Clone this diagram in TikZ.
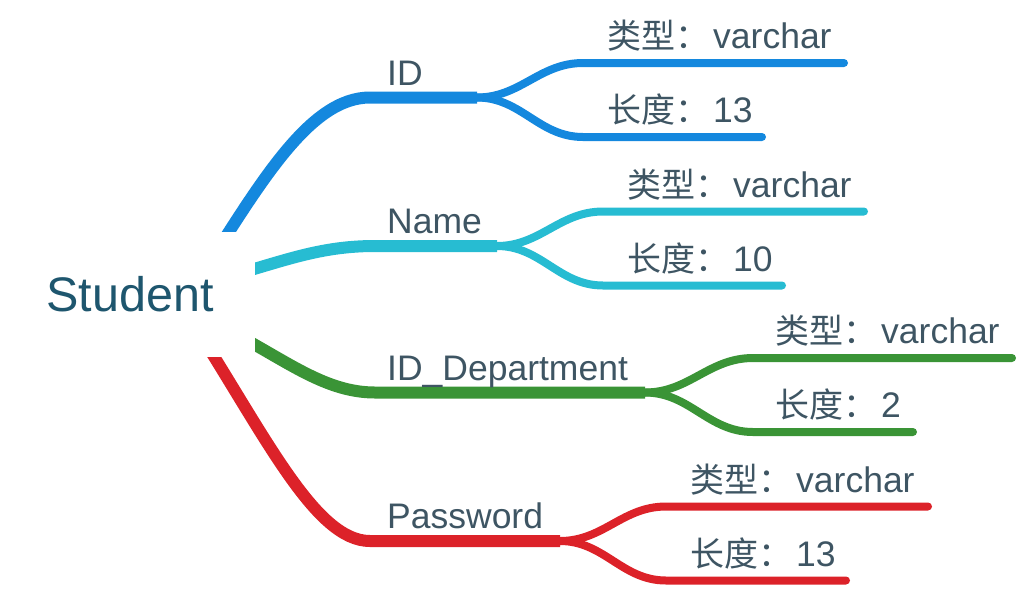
\documentclass[tikz,border=0pt]{standalone}
\usepackage{fontspec}
\setmainfont{Liberation Sans}
\newfontfamily\cjk{Noto Sans CJK SC}
\usetikzlibrary{backgrounds}
\definecolor{textgray}{HTML}{3E5563}
\definecolor{rootblue}{HTML}{1E566E}
\definecolor{idblue}{HTML}{1488DE}
\definecolor{namecyan}{HTML}{27BCD2}
\definecolor{deptgreen}{HTML}{3A9436}
\definecolor{pwred}{HTML}{DC2229}
\newcommand{\zh}[1]{{\cjk\fontsize{34}{38}\selectfont #1}\hspace{4pt}}

\begin{document}
\begin{tikzpicture}[x=1pt,y=-1pt,
	branch/.style={line width=12pt,line cap=butt,line join=round},
	leaf/.style={line width=8pt,line cap=round},
	branchtext/.style={anchor=base west,inner sep=0pt,text=textgray,font=\fontsize{35.5}{40}\selectfont},
	leaftext/.style={anchor=base west,inner sep=0pt,text=textgray,font=\fontsize{35.5}{38}\selectfont}]
	\useasboundingbox (0,0) rectangle (1022,590);

	% Nodes start here
	\node (root) at (130,294.5) [fill=white,minimum width=250pt,minimum height=125pt,text=rootblue,font=\fontsize{48.5}{52}\selectfont] {Student};

	\node (id) at (387,85) [branchtext] {ID};
	\node (name) at (387,233) [branchtext] {Name};
	\node (dept) at (387,380.5) [branchtext] {ID\_Department};
	\node (pw) at (387,528.5) [branchtext] {Password};

	\node (idtype) at (607,48.5) [leaftext] {\zh{类型：}varchar};
	\node (idlen) at (607,122.5) [leaftext] {\zh{长度：}13};
	\node (nametype) at (627,197) [leaftext] {\zh{类型：}varchar};
	\node (namelen) at (627,271) [leaftext] {\zh{长度：}10};
	\node (depttype) at (775,343.5) [leaftext] {\zh{类型：}varchar};
	\node (deptlen) at (775,417.5) [leaftext] {\zh{长度：}2};
	\node (pwtype) at (690,492) [leaftext] {\zh{类型：}varchar};
	\node (pwlen) at (690,566) [leaftext] {\zh{长度：}13};

	% Forks and line ends
	\coordinate (idfork) at (477,97.5);
	\coordinate (namefork) at (497,246);
	\coordinate (deptfork) at (645,392.5);
	\coordinate (pwfork) at (560,541);

	\coordinate (idtype1) at (583,63);   \coordinate (idtype2) at (844,63);
	\coordinate (idlen1) at (583,137);   \coordinate (idlen2) at (762,137);
	\coordinate (nametype1) at (603,211.5); \coordinate (nametype2) at (864,211.5);
	\coordinate (namelen1) at (603,285.5);  \coordinate (namelen2) at (782,285.5);
	\coordinate (depttype1) at (753,358); \coordinate (depttype2) at (1012,358);
	\coordinate (deptlen1) at (753,432);  \coordinate (deptlen2) at (913,432);
	\coordinate (pwtype1) at (666,506.5); \coordinate (pwtype2) at (928,506.5);
	\coordinate (pwlen1) at (666,580.5);  \coordinate (pwlen2) at (846,580.5);

	% Lines start here
	\begin{scope}[on background layer]
	\draw[branch,idblue] (root.center) -- (202,274) .. controls (261,182) and (310,97.5) .. (370,97.5) -- (idfork);
	\draw[branch,namecyan] (root.center) .. controls (250,282) and (290,246) .. (375,246) -- (namefork);
	\draw[branch,deptgreen] (root.center) .. controls (250,320) and (300,392.5) .. (375,392.5) -- (deptfork);
	\draw[branch,pwred] (root.center) -- (191,320) .. controls (265,435) and (315,541) .. (370,541) -- (pwfork);

	\draw[leaf,idblue] (idfork) to[out=0,in=180] (idtype1) -- (idtype2);
	\draw[leaf,idblue] (idfork) to[out=0,in=180] (idlen1) -- (idlen2);
	\draw[leaf,namecyan] (namefork) to[out=0,in=180] (nametype1) -- (nametype2);
	\draw[leaf,namecyan] (namefork) to[out=0,in=180] (namelen1) -- (namelen2);
	\draw[leaf,deptgreen] (deptfork) to[out=0,in=180] (depttype1) -- (depttype2);
	\draw[leaf,deptgreen] (deptfork) to[out=0,in=180] (deptlen1) -- (deptlen2);
	\draw[leaf,pwred] (pwfork) to[out=0,in=180] (pwtype1) -- (pwtype2);
	\draw[leaf,pwred] (pwfork) to[out=0,in=180] (pwlen1) -- (pwlen2);
	\end{scope}

\end{tikzpicture}
\end{document}
